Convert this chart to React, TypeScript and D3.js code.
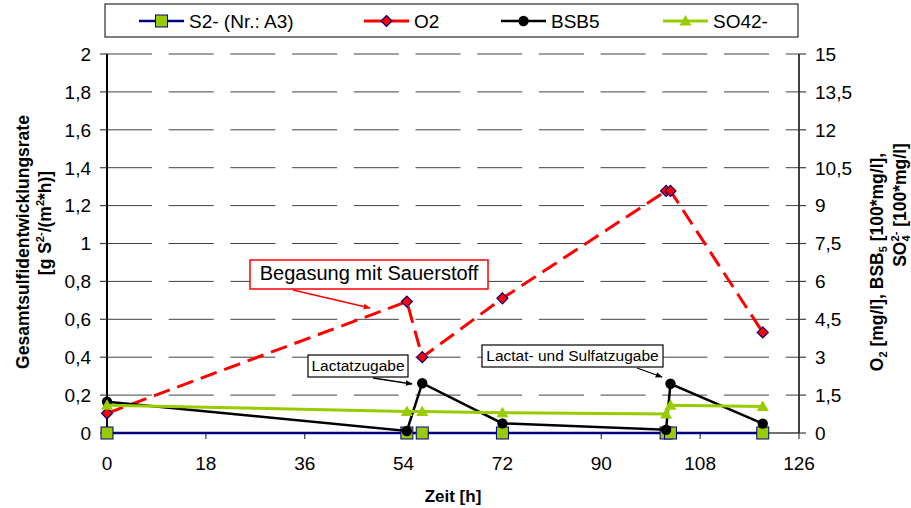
import React from 'react';
import * as d3 from 'd3';

// Measurement times [h]
const hours = [0, 54.6, 57.4, 72, 101.8, 102.6, 119.4];
// Total sulfide evolution rate [g S2-/(m2*h)] (left axis)
const sulfide = [0, 0, 0, 0, 0, 0, 0];
// O2 [mg/l] (right axis)
const oxygen = [0.78, 5.2, 3.0, 5.33, 9.58, 9.58, 3.98];
// BSB5 [100*mg/l] (right axis)
const bsb5 = [1.24, 0.08, 1.97, 0.38, 0.13, 1.95, 0.37];
// SO4 2- [100*mg/l] (right axis)
const sulfate = [1.1, 0.85, 0.85, 0.8, 0.75, 1.1, 1.05];

const xTicks = [0, 18, 36, 54, 72, 90, 108, 126];
const leftTicks = [0, 0.2, 0.4, 0.6, 0.8, 1, 1.2, 1.4, 1.6, 1.8, 2];
const rightTicks = [0, 1.5, 3, 4.5, 6, 7.5, 9, 10.5, 12, 13.5, 15];

const W = 911;
const H = 508;
const FONT = 'Liberation Sans, Arial, Helvetica, sans-serif';
const GREEN = '#99CC00';
const NAVY = '#000080';
const RED = '#FF0000';

const x = d3.scaleLinear().domain([0, 126]).range([107, 799]);
const yL = d3.scaleLinear().domain([0, 2]).range([433, 54]);
const yR = d3.scaleLinear().domain([0, 15]).range([433, 54]);

const fmt = (v: number) => String(+v.toFixed(1)).replace('.', ',');

type Pt = [number, number];
const pts = (vals: number[]): Pt[] => hours.map((h, i) => [h, vals[i]]);

const lineL = d3.line<Pt>().x((d) => x(d[0])).y((d) => yL(d[1]));
const lineR = d3.line<Pt>().x((d) => x(d[0])).y((d) => yR(d[1]));

const Square = ({ cx, cy }: { cx: number; cy: number }) => (
  <rect x={cx - 6} y={cy - 6} width={12} height={12} fill={GREEN} stroke={NAVY} strokeWidth={1} />
);
const Diamond = ({ cx, cy }: { cx: number; cy: number }) => (
  <path d={`M${cx},${cy - 5.5}L${cx + 5.5},${cy}L${cx},${cy + 5.5}L${cx - 5.5},${cy}Z`} fill={RED} stroke={NAVY} strokeWidth={1.2} />
);
const Dot = ({ cx, cy }: { cx: number; cy: number }) => <circle cx={cx} cy={cy} r={5.2} fill="#000" />;
const Tri = ({ cx, cy }: { cx: number; cy: number }) => (
  <path d={`M${cx},${cy - 6}L${cx + 6},${cy + 4.5}L${cx - 6},${cy + 4.5}Z`} fill={GREEN} />
);

const legendItems = [
  { label: 'S2- (Nr.: A3)', x0: 139, color: NAVY, dash: undefined as string | undefined, M: Square, w: 2.5 },
  { label: 'O2', x0: 364, color: RED, dash: undefined, M: Diamond, w: 3 },
  { label: 'BSB5', x0: 501, color: '#000', dash: undefined, M: Dot, w: 2.5 },
  { label: 'SO42-', x0: 663, color: GREEN, dash: undefined, M: Tri, w: 3 },
];

export default function App() {
  return (
    <svg
      width={W}
      height={H}
      viewBox={`0 0 ${W} ${H}`}
      style={{ position: 'absolute', left: 0, top: 0, background: '#fff', fontFamily: FONT }}
    >
      <defs>
        <marker id="arrRed" viewBox="0 0 10 10" refX="9" refY="5" markerWidth="7" markerHeight="7" orient="auto" markerUnits="userSpaceOnUse">
          <path d="M0,1L10,5L0,9Z" fill={RED} />
        </marker>
        <marker id="arrBlack" viewBox="0 0 10 10" refX="9" refY="5" markerWidth="7" markerHeight="7" orient="auto" markerUnits="userSpaceOnUse">
          <path d="M0,1L10,5L0,9Z" fill="#000" />
        </marker>
      </defs>
      <rect x={0} y={0} width={W} height={H} fill="#fff" />

      {/* horizontal gridlines */}
      {leftTicks.filter((t) => t > 0).map((t) => (
        <line key={t} x1={107} x2={799} y1={yL(t)} y2={yL(t)} stroke="#404040" strokeWidth={1} strokeDasharray="45 16.7" />
      ))}

      {/* axes */}
      <line x1={107} x2={799} y1={433} y2={433} stroke="#404040" strokeWidth={1.5} />
      <line x1={107} x2={107} y1={54} y2={433} stroke="#000" strokeWidth={2} />
      <line x1={799} x2={799} y1={54} y2={433} stroke="#000" strokeWidth={1.5} />
      {leftTicks.map((t) => (
        <g key={t}>
          <line x1={100} x2={107} y1={yL(t)} y2={yL(t)} stroke="#404040" strokeWidth={1.2} />
          <text x={91} y={yL(t)} dy="0.36em" textAnchor="end" fontSize={19} fill="#000">{fmt(t)}</text>
        </g>
      ))}
      {rightTicks.map((t) => (
        <g key={t}>
          <line x1={799} x2={806} y1={yR(t)} y2={yR(t)} stroke="#404040" strokeWidth={1.2} />
          <text x={815} y={yR(t)} dy="0.36em" textAnchor="start" fontSize={19} fill="#000">{fmt(t)}</text>
        </g>
      ))}
      {xTicks.map((t) => (
        <g key={t}>
          <line x1={x(t)} x2={x(t)} y1={433} y2={439} stroke="#404040" strokeWidth={1.2} />
          <text x={x(t)} y={470} textAnchor="middle" fontSize={19} fill="#000">{t}</text>
        </g>
      ))}

      {/* axis titles */}
      <text x={453} y={502} textAnchor="middle" fontSize={17} fontWeight="bold">Zeit [h]</text>
      <text transform="translate(23,242) rotate(-90)" textAnchor="middle" dy="0.35em" fontSize={17.5} fontWeight="bold">
        Gesamtsulfidentwicklungsrate
      </text>
      <text transform="translate(45,223) rotate(-90)" textAnchor="middle" dy="0.35em" fontSize={17.5} fontWeight="bold">
        <tspan>[g S</tspan>
        <tspan fontSize={11} dy={-7}>2-</tspan>
        <tspan dy={7}>/(m</tspan>
        <tspan fontSize={11} dy={-7}>2</tspan>
        <tspan dy={7}>*h)]</tspan>
      </text>
      <text transform="translate(877,262) rotate(-90)" textAnchor="middle" dy="0.35em" fontSize={17.5} fontWeight="bold">
        <tspan>O</tspan>
        <tspan fontSize={11} dy={4}>2</tspan>
        <tspan dy={-4}> [mg/l], BSB</tspan>
        <tspan fontSize={11} dy={4}>5</tspan>
        <tspan dy={-4}> [100*mg/l],</tspan>
      </text>
      <text transform="translate(900,205) rotate(-90)" textAnchor="middle" dy="0.35em" fontSize={17.5} fontWeight="bold">
        <tspan>SO</tspan>
        <tspan fontSize={11} dy={4}>4</tspan>
        <tspan fontSize={11} dx={-6} dy={-11}>2-</tspan>
        <tspan dy={7}>  [100*mg/l]</tspan>
      </text>

      {/* S2- series */}
      <path d={lineL(pts(sulfide)) || ''} fill="none" stroke={NAVY} strokeWidth={2.5} />
      {pts(sulfide).map((d, i) => <Square key={i} cx={x(d[0])} cy={yL(d[1])} />)}

      {/* O2 series */}
      <path d={lineR(pts(oxygen)) || ''} fill="none" stroke={RED} strokeWidth={3} strokeDasharray="17 8" />
      {pts(oxygen).map((d, i) => <Diamond key={i} cx={x(d[0])} cy={yR(d[1])} />)}

      {/* BSB5 series */}
      <path d={lineR(pts(bsb5)) || ''} fill="none" stroke="#000" strokeWidth={2.5} />
      {pts(bsb5).map((d, i) => <Dot key={i} cx={x(d[0])} cy={yR(d[1])} />)}

      {/* SO4 2- series */}
      <path d={lineR(pts(sulfate)) || ''} fill="none" stroke={GREEN} strokeWidth={3} />
      {pts(sulfate).map((d, i) => <Tri key={i} cx={x(d[0])} cy={yR(d[1])} />)}

      {/* annotations */}
      <rect x={250} y={260} width={238} height={29} fill="#fff" stroke={RED} strokeWidth={1.5} />
      <text x={369} y={280} textAnchor="middle" fontSize={20}>Begasung mit Sauerstoff</text>
      <line x1={293} y1={290} x2={370} y2={308} stroke={RED} strokeWidth={1.5} markerEnd="url(#arrRed)" />

      <rect x={308} y={355} width={100} height={22} fill="#fff" stroke="#000" strokeWidth={1.2} />
      <text x={358} y={371} textAnchor="middle" fontSize={15.5}>Lactatzugabe</text>
      <line x1={373} y1={378} x2={412} y2={384} stroke="#000" strokeWidth={1.3} markerEnd="url(#arrBlack)" />

      <rect x={482} y={345} width={181} height={22} fill="#fff" stroke="#000" strokeWidth={1.2} />
      <text x={572.5} y={361} textAnchor="middle" fontSize={15.5}>Lactat- und Sulfatzugabe</text>
      <line x1={637} y1={368} x2={662} y2={377} stroke="#000" strokeWidth={1.3} markerEnd="url(#arrBlack)" />

      {/* legend */}
      <rect x={105} y={4} width={693} height={33} fill="#fff" stroke="#000" strokeWidth={1} />
      {legendItems.map((it) => {
        const M = it.M;
        return (
          <g key={it.label}>
            <line x1={it.x0} x2={it.x0 + 45} y1={21} y2={21} stroke={it.color} strokeWidth={it.w} />
            <M cx={it.x0 + 22.5} cy={21} />
            <text x={it.x0 + 50} y={21} dy="0.36em" fontSize={19}>{it.label}</text>
          </g>
        );
      })}
    </svg>
  );
}
